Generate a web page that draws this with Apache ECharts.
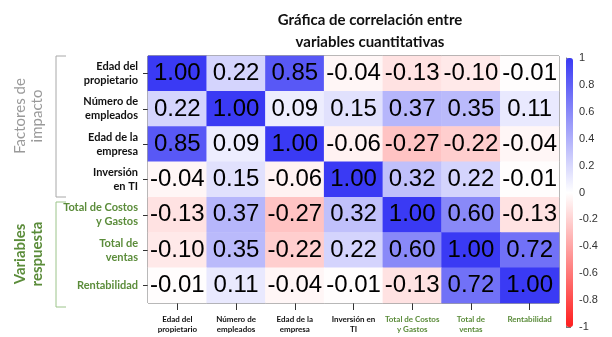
<!DOCTYPE html>
<html>
<head>
<meta charset="utf-8">
<script src="https://cdn.jsdelivr.net/npm/echarts@6/dist/echarts.min.js"></script>
<style>html,body{margin:0;padding:0;background:#fff;}#c{width:612px;height:337px;}</style>
</head>
<body>
<div id="c"></div>
<script>
// ---- data ----
var yLabels = ['Edad del\npropietario', 'Número de\nempleados', 'Edad de la\nempresa', 'Inversión\nen TI',
               'Total de Costos\ny Gastos', 'Total de\nventas', 'Rentabilidad'];
var xLabels = ['Edad del\npropietario', 'Número de\nempleados', 'Edad de la\nempresa', 'Inversión en\nTI',
               'Total de Costos\ny Gastos', 'Total de\nventas', 'Rentabilidad'];
var isResponse = [false, false, false, false, true, true, true];
var row0 = [1.00, 0.22, 0.85, -0.04, -0.13, -0.10, -0.01];
var row1 = [0.22, 1.00, 0.09, 0.15, 0.37, 0.35, 0.11];
var row2 = [0.85, 0.09, 1.00, -0.06, -0.27, -0.22, -0.04];
var row3 = [-0.04, 0.15, -0.06, 1.00, 0.32, 0.22, -0.01];
var row4 = [-0.13, 0.37, -0.27, 0.32, 1.00, 0.60, -0.13];
var row5 = [-0.10, 0.35, -0.22, 0.22, 0.60, 1.00, 0.72];
var row6 = [-0.01, 0.11, -0.04, -0.01, -0.13, 0.72, 1.00];
var rows = [row0, row1, row2, row3, row4, row5, row6];
var titleText = 'Gráfica de correlación entre\nvariables cuantitativas';
var groupImpact = 'Factores de\nimpacto';
var groupResponse = 'Variables\nrespuesta';

var heatData = [];
rows.forEach(function (r, yi) {
  r.forEach(function (v, xi) { heatData.push([xi, yi, v]); });
});

var GREEN = '#5b8c3a';
var chart = echarts.init(document.getElementById('c'), null, {renderer: 'canvas'});
chart.setOption({
  animation: false,
  backgroundColor: '#fff',
  title: {
    text: titleText, left: 365, top: 4, textAlign: 'center',
    textStyle: {fontFamily: 'Lato', fontWeight: 'bold', fontSize: 15, lineHeight: 22, color: '#111'}
  },
  grid: [
    {left: 148, top: 56, width: 411, height: 247, show: true, borderColor: '#444', borderWidth: 1, backgroundColor: 'transparent'},
    {left: 566, top: 58, width: 7, height: 269, show: false}
  ],
  xAxis: [
    {type: 'category', data: xLabels, gridIndex: 0, position: 'bottom',
     axisLine: {show: false}, splitLine: {show: false},
     axisTick: {show: true, alignWithLabel: true, length: 7, lineStyle: {color: '#333'}},
     axisLabel: {interval: 0, margin: 11, fontFamily: 'Lato', fontWeight: 'bold', fontSize: 8, lineHeight: 10,
       color: function (v, i) { return isResponse[i] ? GREEN : '#111'; }}},
    {type: 'value', gridIndex: 1, show: false, min: 0, max: 1}
  ],
  yAxis: [
    {type: 'category', data: yLabels, gridIndex: 0, inverse: true,
     axisLine: {show: false}, splitLine: {show: false},
     axisTick: {show: true, alignWithLabel: true, length: 5, lineStyle: {color: '#333'}},
     axisLabel: {interval: 0, margin: 10, fontFamily: 'Lato', fontWeight: 'bold', fontSize: 11, lineHeight: 14, align: 'right',
       color: function (v, i) { return isResponse[i] ? GREEN : '#111'; }}},
    {type: 'value', gridIndex: 1, position: 'right', min: -1, max: 1, interval: 0.2,
     axisLine: {show: true, lineStyle: {color: '#777', width: 1}},
     axisTick: {show: true, length: 5, lineStyle: {color: '#777'}},
     splitLine: {show: false},
     axisLabel: {margin: 6, fontFamily: 'Liberation Sans', fontSize: 11, color: '#333',
       formatter: function (v) { return String(Math.round(v * 10) / 10); }}}
  ],
  visualMap: {
    type: 'continuous', min: -1, max: 1, calculable: false, seriesIndex: 0,
    orient: 'vertical', left: 566, top: 58, itemWidth: 7, itemHeight: 269, padding: 0,
    text: null, showLabel: false,
    inRange: {color: ['#ff1f1f', '#ffffff', '#3a3af4']}
  },
  graphic: [
    {type: 'text', x: 29, y: 116, rotation: Math.PI / 2,
     style: {text: groupImpact, fontFamily: 'Lato', fontSize: 15, lineHeight: 17, fill: '#9a9a9a', align: 'center', verticalAlign: 'middle'}},
    {type: 'text', x: 29, y: 254, rotation: Math.PI / 2,
     style: {text: groupResponse, fontFamily: 'Lato', fontWeight: 'bold', fontSize: 15, lineHeight: 17, fill: GREEN, align: 'center', verticalAlign: 'middle'}},
    {type: 'polyline', shape: {points: [[66, 56], [56, 56], [56, 197], [66, 197]]},
     style: {stroke: '#a8a8a8', lineWidth: 1, fill: null}},
    {type: 'polyline', shape: {points: [[66, 202], [56, 202], [56, 307], [66, 307]]},
     style: {stroke: '#9cc48a', lineWidth: 1, fill: null}}
  ],
  series: [{
    type: 'heatmap', xAxisIndex: 0, yAxisIndex: 0, data: heatData,
    label: {show: true, fontFamily: 'Liberation Sans', fontSize: 24, color: '#000',
      formatter: function (p) { return p.value[2].toFixed(2); }},
    itemStyle: {borderWidth: 0},
    emphasis: {disabled: true}
  }]
});
</script>
</body>
</html>
